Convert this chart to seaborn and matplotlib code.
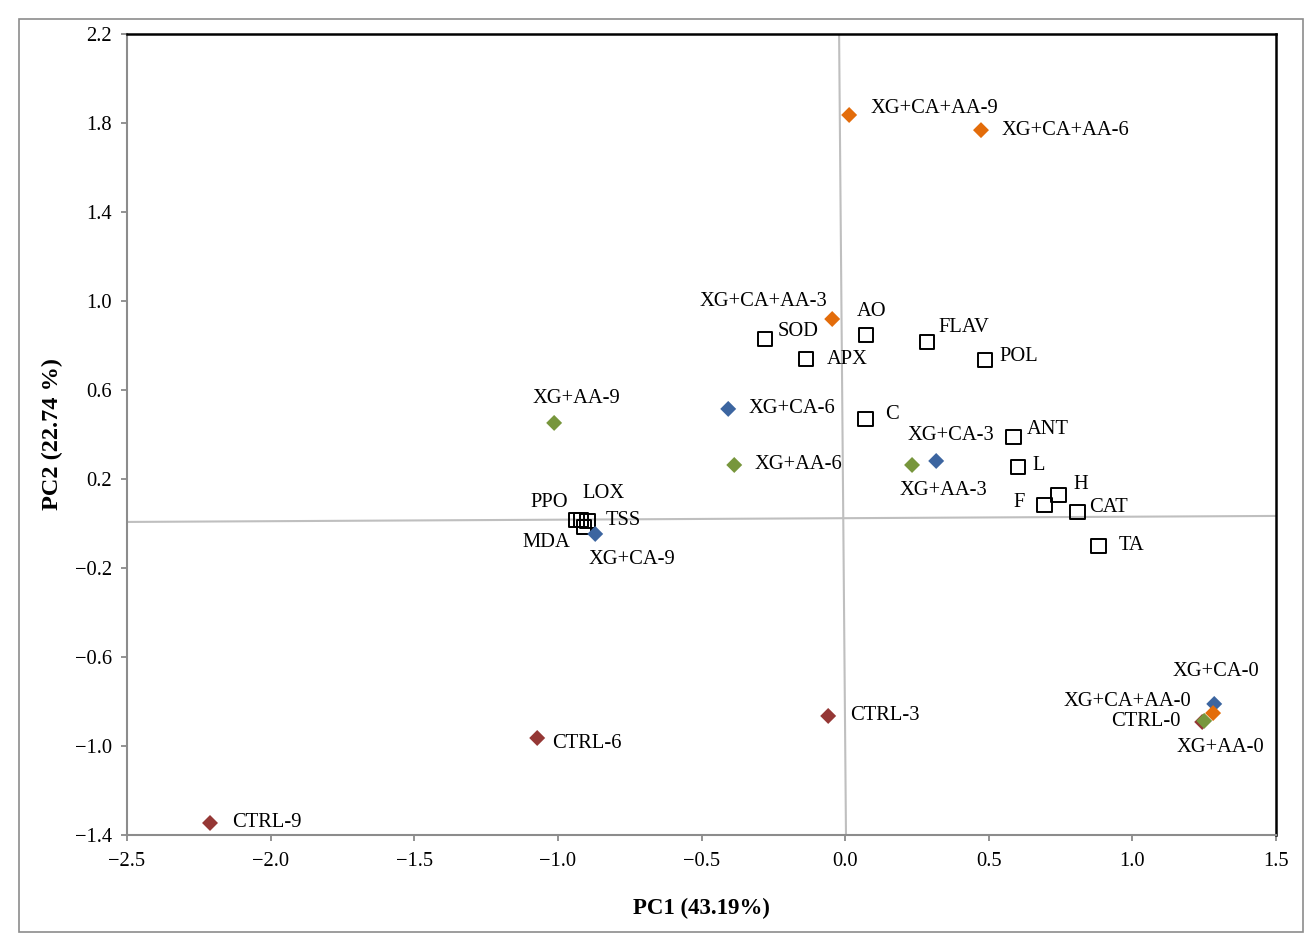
import matplotlib
matplotlib.use("Agg")
import matplotlib.pyplot as plt
import seaborn as sns
import pandas as pd
from matplotlib.patches import Rectangle

# ---- data: sample scores (diamonds) ----
sample_names = ["CTRL-9", "CTRL-6", "CTRL-3", "CTRL-0",
                "XG+AA-9", "XG+AA-6", "XG+AA-3", "XG+AA-0",
                "XG+CA-9", "XG+CA-6", "XG+CA-3", "XG+CA-0",
                "XG+CA+AA-9", "XG+CA+AA-6", "XG+CA+AA-3", "XG+CA+AA-0"]
sample_group = ["CTRL"] * 4 + ["XG+AA"] * 4 + ["XG+CA"] * 4 + ["XG+CA+AA"] * 4
sample_pc1 = [-2.211, -1.072, -0.059, 1.243,
              -1.013, -0.386, 0.233, 1.250,
              -0.870, -0.407, 0.317, 1.285,
              0.014, 0.473, -0.045, 1.281]
sample_pc2 = [-1.346, -0.964, -0.865, -0.892,
              0.452, 0.263, 0.263, -0.887,
              -0.047, 0.515, 0.281, -0.811,
              1.836, 1.768, 0.919, -0.852]

# ---- data: variable loadings (squares) ----
var_names = ["SOD", "AO", "APX", "FLAV", "POL", "C", "ANT", "L", "H", "F",
             "CAT", "TA", "PPO", "LOX", "TSS", "MDA"]
var_pc1 = [-0.279, 0.073, -0.136, 0.285, 0.487, 0.070, 0.585, 0.602, 0.742,
           0.693, 0.808, 0.881, -0.936, -0.919, -0.898, -0.909]
var_pc2 = [0.829, 0.847, 0.739, 0.816, 0.735, 0.470, 0.389, 0.254, 0.128,
           0.083, 0.052, -0.101, 0.016, 0.016, 0.011, -0.016]

x_ticks = [-2.5, -2.0, -1.5, -1.0, -0.5, 0.0, 0.5, 1.0, 1.5]
y_ticks = [-1.4, -1.0, -0.6, -0.2, 0.2, 0.6, 1.0, 1.4, 1.8, 2.2]

group_colors = {"XG+CA+AA": "#E36C0A", "XG+CA": "#3C65A0",
                "XG+AA": "#77963C", "CTRL": "#953735"}

# label offsets in pixels (dx, dy, ha)
sample_offsets = {
    "XG+CA+AA-9": (21, 6, "left"), "XG+CA+AA-6": (21, 0, "left"),
    "XG+CA+AA-3": (-5, 18, "right"), "XG+CA+AA-0": (-22, 12, "right"),
    "XG+CA-9": (-7, -26, "left"), "XG+CA-6": (20, 0, "left"),
    "XG+CA-3": (15, 25, "center"), "XG+CA-0": (2, 32, "center"),
    "XG+AA-9": (22, 24, "center"), "XG+AA-6": (20, 0, "left"),
    "XG+AA-3": (31, -26, "center"), "XG+AA-0": (16, -27, "center"),
    "CTRL-9": (22, 0, "left"), "CTRL-6": (15, -6, "left"),
    "CTRL-3": (22, 0, "left"), "CTRL-0": (-22, 0, "right"),
}
var_offsets = {
    "SOD": (13, 8, "left"), "AO": (-9, 24, "left"), "APX": (21, 0, "left"),
    "FLAV": (11, 14, "left"), "POL": (14, 3, "left"), "C": (20, 4, "left"),
    "ANT": (14, 7, "left"), "L": (14, 1, "left"), "H": (15, 11, "left"),
    "F": (-19, 3, "right"), "CAT": (12, 4, "left"), "TA": (20, 0, "left"),
    "PPO": (-8, 17, "right"), "LOX": (1, 26, "left"), "TSS": (19, 1, "left"),
    "MDA": (-14, -15, "right"),
}

samples = pd.DataFrame({"name": sample_names, "group": sample_group,
                        "PC1": sample_pc1, "PC2": sample_pc2})
variables = pd.DataFrame({"name": var_names, "PC1": var_pc1, "PC2": var_pc2})

sns.set_theme(style="white")
plt.rcParams["font.family"] = ["Liberation Serif", "DejaVu Serif"]
plt.rcParams["axes.unicode_minus"] = True

fig = plt.figure(figsize=(13.16, 9.52), dpi=100)
ax = fig.add_axes([127 / 1316, 1 - 835 / 952, (1276 - 127) / 1316, (835 - 34) / 952])

# slanted reference lines through the origin
ax.plot([-2.5, 1.5], [0.007, 0.034], color="#BFBFBF", lw=1.5, zorder=1)
ax.plot([-0.021, 0.003], [2.2, -1.4], color="#BFBFBF", lw=1.5, zorder=1)

sns.scatterplot(data=variables, x="PC1", y="PC2", ax=ax, marker="s", s=112,
                facecolor="none", edgecolor="black", linewidth=1.4, zorder=3,
                legend=False)
sns.scatterplot(data=samples, x="PC1", y="PC2", hue="group", palette=group_colors,
                ax=ax, marker="D", s=66, linewidth=0, zorder=4, legend=False)

FS = 14.8
for _, r in samples.iterrows():
    dx, dy, ha = sample_offsets[r["name"]]
    ax.annotate(r["name"], (r["PC1"], r["PC2"]), xytext=(dx, dy),
                textcoords="offset pixels", ha=ha, va="center", fontsize=FS,
                color="black", zorder=5)
for _, r in variables.iterrows():
    dx, dy, ha = var_offsets[r["name"]]
    ax.annotate(r["name"], (r["PC1"], r["PC2"]), xytext=(dx, dy),
                textcoords="offset pixels", ha=ha, va="center", fontsize=FS,
                color="black", zorder=5)

ax.set_xlim(-2.5, 1.5)
ax.set_ylim(-1.4, 2.2)
ax.set_xticks(x_ticks)
ax.set_yticks(y_ticks)
ax.set_xticklabels([f"{v:.1f}".replace("-", "\u2212") for v in x_ticks])
ax.set_yticklabels([f"{v:.1f}".replace("-", "\u2212") for v in y_ticks])
ax.tick_params(axis="both", direction="out", length=4, width=1.2, color="#808080",
               labelsize=14.8, labelcolor="black", bottom=True, left=True)
ax.tick_params(axis="x", pad=8)
ax.tick_params(axis="y", pad=7)

for side in ["left", "bottom"]:
    ax.spines[side].set_color("#8C8C8C")
    ax.spines[side].set_linewidth(1.5)
for side in ["top", "right"]:
    ax.spines[side].set_color("black")
    ax.spines[side].set_linewidth(1.8)

ax.set_xlabel("PC1 (43.19%)", fontsize=16.5, fontweight="bold", color="black")
ax.set_ylabel("PC2 (22.74 %)", fontsize=17.5, fontweight="bold", color="black")
ax.xaxis.set_label_coords(0.5, -0.078)
ax.yaxis.set_label_coords(-0.056, 0.5)

fig.patches.append(Rectangle((19 / 1316, 1 - 932 / 952), (1303 - 19) / 1316,
                             (932 - 19) / 952, transform=fig.transFigure,
                             fill=False, edgecolor="#8C8C8C", lw=1.2))

fig.savefig("out.png", dpi=100)
